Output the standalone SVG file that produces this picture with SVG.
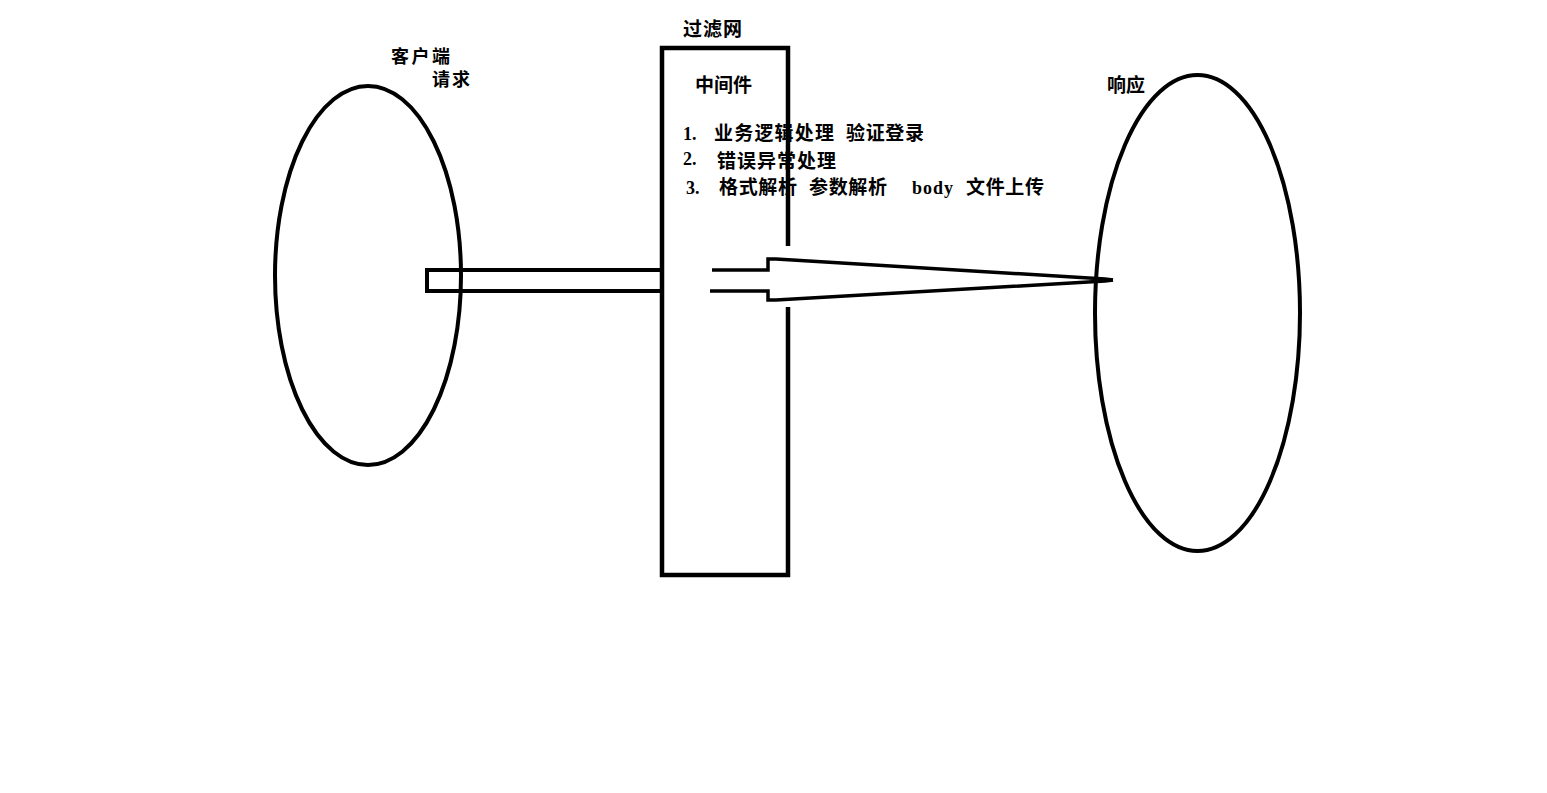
<svg xmlns="http://www.w3.org/2000/svg" width="1547" height="793" viewBox="0 0 1547 793">
<style>
.ln{fill:none;stroke:#000;stroke-linejoin:miter}
.t{font-family:"Noto Sans CJK SC","Noto Sans",sans-serif;font-size:19px;font-weight:700;fill:#000}
.s{font-size:18px}
.n{font-family:"Liberation Serif",serif;font-size:18px;font-weight:700;fill:#000}
</style>
<rect width="1547" height="793" fill="#fff"/>
<g id="client">
<ellipse class="ln" cx="368" cy="275.5" rx="93" ry="189.5" stroke-width="4"/>
<text class="t s" x="391" y="63" textLength="59">客户端</text>
<text class="t s" x="432" y="86" textLength="38">请求</text>
</g>
<g id="filter">
<path class="ln" d="M788,246 V48 H662 V575 H788 V307" stroke-width="4.5"/>
<text class="t" x="683" y="36" textLength="59">过滤网</text>
<text class="t" x="695" y="92" textLength="57">中间件</text>
<text class="n" x="683" y="140">1.</text>
<text class="t" x="714" y="140" textLength="120">业务逻辑处理</text>
<text class="t" x="846" y="140" textLength="78">验证登录</text>
<text class="n" x="683" y="165">2.</text>
<text class="t" x="717" y="168" textLength="119">错误异常处理</text>
<text class="n" x="686" y="194">3.</text>
<text class="t" x="719" y="194" textLength="78">格式解析</text>
<text class="t" x="809" y="194" textLength="78">参数解析</text>
<text class="n" x="912" y="194" textLength="41">body</text>
<text class="t" x="966" y="194" textLength="78">文件上传</text>
</g>
<g id="response">
<ellipse class="ln" cx="1197.5" cy="313" rx="102.5" ry="238" stroke-width="4"/>
<text class="t" x="1107" y="92" textLength="38">响应</text>
</g>
<g id="connectors">
<path class="ln" d="M662,270 H427 V291 H662" stroke-width="4"/>
<path class="ln" d="M712,270 H768 V259 L776,259 L1105,279 L1113,280" stroke-width="3.5"/>
<path class="ln" d="M710,291 H768 V300 L776,300 L1105,281 L1113,280" stroke-width="3.5"/>
</g>
</svg>
